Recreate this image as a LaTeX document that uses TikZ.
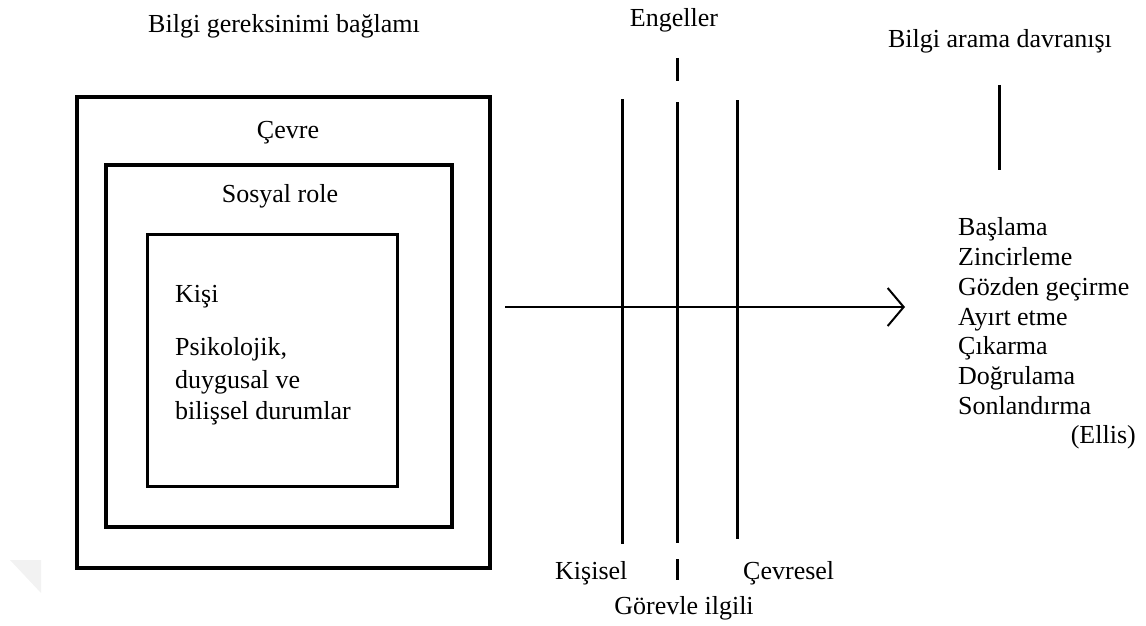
\documentclass[tikz,border=0pt]{standalone}
\usepackage{fontspec}
\setmainfont{Liberation Serif}
\usetikzlibrary{arrows.meta}

\begin{document}
\begin{tikzpicture}[x=1pt,y=-1pt,font=\fontsize{26}{30}\selectfont]
	% Paths, nodes and wires:
	\useasboundingbox (0,0) rectangle (1146,626);
	\fill[black!5] (10,560) -- (41,560) -- (41,593) -- cycle;
	\draw[line width=3.5pt] (77,97) rectangle (490,568);
	\draw[line width=3.5pt] (106,165) rectangle (452,527);
	\draw[line width=3pt] (147,234) rectangle (397,486);
	\draw[line width=3pt] (622,99) -- (622,544);
	\draw[line width=3pt] (677,102) -- (677,543);
	\draw[line width=3pt] (737,100) -- (737,539);
	\draw[line width=3pt] (677,58) -- (677,81);
	\draw[line width=3pt] (677,559) -- (677,580);
	\draw[line width=3pt] (999,85) -- (999,170);
	\draw[line width=2.6pt, -{Straight Barb[length=16pt,width=38pt,line width=2pt]}] (505,307) -- (905,307);
	\draw node[anchor=base, inner sep=0] (N1) at (284,33) {Bilgi gereksinimi bağlamı};
	\draw node[anchor=base, inner sep=0] (N2) at (288,138) {Çevre};
	\draw node[anchor=base, inner sep=0] (N3) at (280,202) {Sosyal role};
	\draw node[anchor=base west, inner sep=0] (N4) at (175,302) {Kişi};
	\draw node[anchor=base west, inner sep=0] (N5) at (175,355) {Psikolojik,};
	\draw node[anchor=base west, inner sep=0] (N6) at (175,388) {duygusal ve};
	\draw node[anchor=base west, inner sep=0] (N7) at (175,419) {bilişsel durumlar};
	\draw node[anchor=base, inner sep=0] (N8) at (674,27) {Engeller};
	\draw node[anchor=base, inner sep=0] (N9) at (1000,48) {Bilgi arama davranışı};
	\draw node[anchor=base west, inner sep=0] (N10) at (555,579) {Kişisel};
	\draw node[anchor=base west, inner sep=0] (N11) at (743,579) {Çevresel};
	\draw node[anchor=base, inner sep=0] (N12) at (684,614) {Görevle ilgili};
	\draw node[anchor=base west, inner sep=0] (S1) at (958,235) {Başlama};
	\draw node[anchor=base west, inner sep=0] (S2) at (958,265) {Zincirleme};
	\draw node[anchor=base west, inner sep=0] (S3) at (958,295) {Gözden geçirme};
	\draw node[anchor=base west, inner sep=0] (S4) at (958,325) {Ayırt etme};
	\draw node[anchor=base west, inner sep=0] (S5) at (958,354) {Çıkarma};
	\draw node[anchor=base west, inner sep=0] (S6) at (958,384) {Doğrulama};
	\draw node[anchor=base west, inner sep=0] (S7) at (958,414) {Sonlandırma};
	\draw node[anchor=base east, inner sep=0] (S8) at (1136,443) {(Ellis)};
\end{tikzpicture}
\end{document}
